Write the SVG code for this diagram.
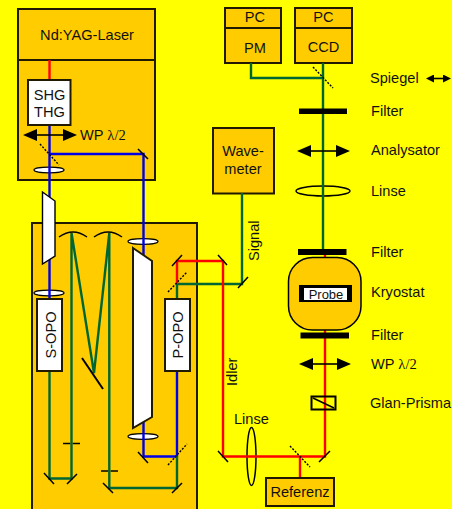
<svg xmlns="http://www.w3.org/2000/svg" width="452" height="509" viewBox="0 0 452 509">
<defs>
<marker id="a" viewBox="0 0 14 12" refX="1" refY="6" markerWidth="14" markerHeight="12" markerUnits="userSpaceOnUse" orient="auto-start-reverse"><path d="M0 0L14 6L0 12Z" fill="#000"/></marker>
<marker id="b" viewBox="0 0 8 8" refX="1" refY="4" markerWidth="8" markerHeight="8" markerUnits="userSpaceOnUse" orient="auto-start-reverse"><path d="M8 4L0 0V8Z" fill="#000"/></marker>
</defs>
<style>
text{font-family:"Liberation Sans",Arial,sans-serif;font-size:14.6px;fill:#111}
.s{font-family:"Liberation Serif","Times New Roman",serif}
.box{fill:#fc0;stroke:#221a00;stroke-width:2}
.w{fill:#fff;stroke:#221a00;stroke-width:2}
.g,.b,.r{fill:none;stroke-width:2.4}
.g{stroke:#006633}.b{stroke:#0000e6}.r{stroke:#f00}
.m{fill:none;stroke:#000;stroke-width:1.5}
.d{fill:none;stroke:#000;stroke-width:1.4;stroke-dasharray:2 1.5}
.l{fill:#fff;stroke:#000;stroke-width:1.2}
.f{fill:#000}
.ar{stroke:#000;stroke-width:1.6;fill:none;marker-start:url(#a);marker-end:url(#a)}
</style>
<rect width="452" height="509" fill="#ff0"/>
<g id="laser"><rect class="box" x="18" y="9" width="137" height="171"/><path d="M18 60H155" stroke="#221a00" stroke-width="2"/><text x="87" y="40" text-anchor="middle">Nd:YAG-Laser</text></g>
<g id="opo-table"><rect class="box" x="32" y="223" width="165" height="290"/></g>
<g id="wavemeter"><rect class="box" x="213" y="128" width="61" height="65.500"/><text x="243" y="156" text-anchor="middle">Wave-</text><text x="243" y="174" text-anchor="middle">meter</text></g>
<g id="pc-pm"><rect class="box" x="225" y="8" width="56" height="55"/><path d="M225 28H281" stroke="#221a00" stroke-width="2"/><text x="255" y="22" text-anchor="middle">PC</text><text x="255" y="53" text-anchor="middle">PM</text></g>
<g id="pc-ccd"><rect class="box" x="295" y="8" width="57" height="55"/><path d="M295 28H352" stroke="#221a00" stroke-width="2"/><text x="323.500" y="22" text-anchor="middle">PC</text><text x="323.500" y="52" text-anchor="middle">CCD</text></g>
<g id="optics-under">
<path class="m" style="stroke-dasharray:7.500 2 7.500" d="M63 443.500H80M101 471H118"/>
<ellipse class="l" cx="49" cy="170" rx="15" ry="2.800"/><ellipse class="l" cx="49" cy="293" rx="15" ry="2.800"/>
<ellipse class="l" cx="143" cy="241.500" rx="15" ry="2.800"/><ellipse class="l" cx="143" cy="436.500" rx="15" ry="2.800"/>
<ellipse cx="323" cy="191" rx="27" ry="5" fill="none" stroke="#000" stroke-width="1.500"/>
<ellipse cx="251.500" cy="456.500" rx="4.500" ry="29" fill="none" stroke="#000" stroke-width="1.500"/>
</g>
<g id="connectors">
<path class="r" d="M49.500 60V80"/>
<path class="b" d="M49.500 125V299M49.500 154H143.500V456.500H177M177 371V456.500"/>
<path class="g" d="M49.500 371V478.500H71.500V233L94 373L109.300 233V488H177V456M177 299V284H242V193"/>
<path class="r" d="M177 284V261H223V456.500H325V252M300 456.500V478"/>
<path class="g" d="M251 63V78H323M323 63V250"/>
</g>
<g id="kryostat"><rect x="288.500" y="257.500" width="72.500" height="72.500" rx="24" fill="#fc0" stroke="#000" stroke-width="1.500"/><rect x="299" y="285" width="53" height="17" fill="#000"/><rect x="304" y="288" width="43" height="12" fill="#fff"/><text x="326" y="298.500" text-anchor="middle" style="font-size:13px">Probe</text></g>
<g id="optics">
<path class="m" d="M138 149L148 159M44 473L54 484M67 484L77 474M103 483L113 493M172 493L182 483M138 452L148 463M172 266L182 255M218 255L227 265M238 288L248 277M218 451L228 462M319 462L330 451"/>
<path class="m" style="stroke-width:2" d="M82 358L103 389"/>
<path class="d" d="M40 144L59 165M168 292L187 272M168 465L187 444M313 67L333 88M290 446L310 467"/>
<path class="m" d="M59 237Q73 227 87 237M94 237Q108 227 122 237"/>
<path class="w" style="stroke-width:1.4;stroke:#000" d="M42.500 192L55 201V256L42.500 264Z"/>
<path class="w" d="M133 248L152 261V417L133 428Z"/>
<path class="ar" d="M36 135H64"/>
<path class="ar" d="M310 151H337"/>
<path class="ar" d="M312 364H338"/>
<path class="ar" style="marker-start:url(#b);marker-end:url(#b)" d="M433 78.500H444"/>
<rect class="f" x="299" y="108.500" width="48" height="5.500"/>
<rect class="f" x="298" y="249" width="48.500" height="6"/>
<rect class="f" x="300.500" y="332.500" width="48.500" height="6"/>
<rect x="311.500" y="396.500" width="24" height="13" fill="none" stroke="#000" stroke-width="2"/>
<path class="m" d="M313 398L334 408"/>
</g>
<g id="shg"><rect class="w" x="28" y="80" width="42.500" height="45"/><text x="49.500" y="100" text-anchor="middle">SHG</text><text x="49.500" y="117" text-anchor="middle">THG</text></g>
<g id="s-opo"><rect class="w" x="37" y="299" width="25" height="72"/><text transform="translate(56 335) rotate(-90)" text-anchor="middle">S-OPO</text></g>
<g id="p-opo"><rect class="w" x="165" y="299" width="25" height="72"/><text transform="translate(183 335) rotate(-90)" text-anchor="middle">P-OPO</text></g>
<g id="referenz"><rect class="box" x="266" y="478" width="68" height="28"/><text x="300" y="497" text-anchor="middle">Referenz</text></g>
<g id="labels">
<text x="80" y="140">WP <tspan class="s">λ/2</tspan></text>
<text x="370" y="83">Spiegel</text>
<text x="371" y="116">Filter</text>
<text x="371" y="155">Analysator</text>
<text x="371" y="196">Linse</text>
<text x="371" y="257">Filter</text>
<text x="371" y="297">Kryostat</text>
<text x="371" y="340">Filter</text>
<text x="371" y="369">WP <tspan class="s">λ/2</tspan></text>
<text x="370" y="408">Glan-Prisma</text>
<text x="234" y="424">Linse</text>
<text transform="translate(237 386) rotate(-90)">Idler</text>
<text transform="translate(259 261) rotate(-90)">Signal</text>
</g>
</svg>
